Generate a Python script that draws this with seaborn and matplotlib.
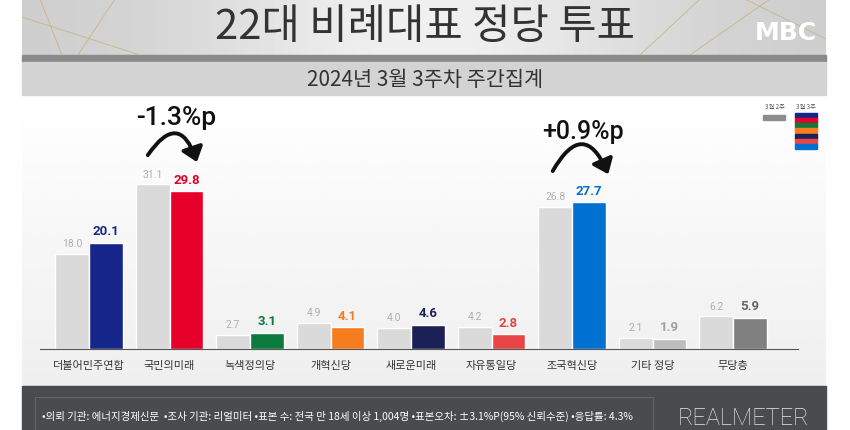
import numpy as np
import pandas as pd
import matplotlib
matplotlib.use("Agg")
import matplotlib.pyplot as plt
from matplotlib.patches import Rectangle
import seaborn as sns

# data
parties = ["더불어민주연합", "국민의미래", "녹색정의당", "개혁신당", "새로운미래",
           "자유통일당", "조국혁신당", "기타 정당", "무당층"]
week2 = [18.0, 31.1, 2.7, 4.9, 4.0, 4.2, 26.8, 2.1, 6.2]
week3 = [20.1, 29.8, 3.1, 4.1, 4.6, 2.8, 27.7, 1.9, 5.9]
weeks = ["3월 2주", "3월 3주"]
bar_colors = ["#16258a", "#e6002a", "#0b7b3e", "#f57d20", "#1b2157",
              "#e84646", "#0071d1", "#bdbdbd", "#808080"]
label_colors = ["#1a2a80", "#e0002a", "#0b7b3e", "#f57d20", "#1b2157",
                "#e04545", "#0a6fc8", "#a0a0a0", "#666666"]
prev_color = "#dadada"

df = pd.DataFrame({
    "party": parties * 2,
    "week": [weeks[0]] * len(parties) + [weeks[1]] * len(parties),
    "value": week2 + week3,
})

sns.set_theme(style="white")
plt.rcParams["font.family"] = ["Noto Sans CJK KR", "DejaVu Sans"]

W, H = 850, 431
fig = plt.figure(figsize=(W / 100, H / 100), dpi=100)
fig.patch.set_facecolor("white")

# background / frame drawn in pixel coordinates
bg = fig.add_axes([0, 0, 1, 1])
bg.axis("off")

# title banner gradient
xs = np.linspace(0, 1, 200)
row = 0.80 + 0.14 * np.exp(-((xs - 0.5) / 0.3) ** 2)
bg.imshow(np.tile(row, (10, 1)), cmap="gray", vmin=0, vmax=1, aspect="auto",
          extent=(22, 826, 56, 0))
for x0, y0, x1, y1 in [(40, 0, 62, 56), (22, 18, 140, 56), (115, 0, 78, 56),
                       (690, 56, 770, 0), (745, 0, 826, 40), (640, 56, 700, 0)]:
    bg.plot([x0, x1], [y0, y1], color="#c9b37e", lw=0.7, alpha=0.8)
bg.add_patch(Rectangle((22, 56), 804, 7, color="#8a8a8a"))
bg.add_patch(Rectangle((22, 63), 804, 33, color="#d3d3d3"))

# chart area gradient
col = np.linspace(1.0, 0.935, 100)[:, None]
bg.imshow(np.tile(col, (1, 10)), cmap="gray", vmin=0, vmax=1, aspect="auto",
          extent=(22, 826, 387, 96))

# footer
bg.add_patch(Rectangle((22, 387), 804, 44, color="#4a4b4d"))
bg.add_patch(Rectangle((35, 398), 618, 40, fill=False, ec="#626365", lw=0.8))
bg.set_xlim(0, W)
bg.set_ylim(H, 0)

bg.text(425, 27, "22대 비례대표 정당 투표", ha="center", va="center",
        fontsize=30, color="#333333")
bg.text(786, 33, "MBC", ha="center", va="center", fontsize=18,
        fontweight="bold", color="white", family="DejaVu Sans")
bg.text(425, 80, "2024년 3월 3주차 주간집계", ha="center", va="center",
        fontsize=15, color="#333333")
bg.text(42, 416, "•의뢰 기관: 에너지경제신문  •조사 기관: 리얼미터 •표본 수: 전국 만 18세 이상 1,004명 "
        "•표본오차: ±3.1%P(95% 신뢰수준) •응답률: 4.3%",
        ha="left", va="center", fontsize=7.5, color="white")
bg.text(744, 418, "REALMETER", ha="center", va="center", fontsize=17,
        color="#e6e6e6", family="Roboto", fontweight="light")

# legend (top right)
bg.text(775, 107, weeks[0], ha="center", va="center", fontsize=4.5, color="#555555")
bg.text(806, 107, weeks[1], ha="center", va="center", fontsize=4.5, color="#555555")
bg.add_patch(Rectangle((763, 116), 22, 5, color="#8c8c8c"))
for i, c in enumerate(bar_colors[:7]):
    bg.add_patch(Rectangle((795, 114 + i * 5.15), 22, 5.15, color=c))

# main bar chart
ax = fig.add_axes([40 / W, (H - 350) / H, 758 / W, 250 / H])
ax.patch.set_alpha(0)
sns.barplot(data=df, x="party", y="value", hue="week", hue_order=weeks,
            palette={weeks[0]: prev_color, weeks[1]: "#000000"},
            width=0.84, gap=0, legend=False, ax=ax, saturation=1)
for patch, c in zip(ax.containers[1], bar_colors):
    patch.set_facecolor(c)

prev_txt = ax.bar_label(ax.containers[0], labels=[f"{v:.1f}" for v in week2],
                        padding=4, fontsize=7.5, color="#b0b0b0", family="Roboto")
cur_txt = ax.bar_label(ax.containers[1], labels=[f"{v:.1f}" for v in week3],
                       padding=4, fontsize=9.5, fontweight="bold", family="Roboto")
for t, c in zip(cur_txt, label_colors):
    t.set_color(c)

ax.set_xlim(-0.609, 8.807)
ax.set_ylim(0, 47.2)
ax.set_xlabel("")
ax.set_ylabel("")
ax.set_yticks([])
ax.tick_params(axis="x", length=0, pad=8, labelsize=8, labelcolor="#333333")
for lbl in ax.get_xticklabels():
    lbl.set_fontweight("medium")
for s in ["top", "right", "left"]:
    ax.spines[s].set_visible(False)
ax.spines["bottom"].set_color("#555555")
ax.spines["bottom"].set_linewidth(0.8)

# change annotations
arrow = dict(arrowstyle="-|>,head_width=0.55,head_length=0.7",
             connectionstyle="arc3,rad=-1.0", lw=2.8, color="#111111",
             shrinkA=0, shrinkB=0)
ax.annotate("", xy=(1.34, 35.3), xytext=(0.73, 36.6), arrowprops=arrow)
ax.text(1.08, 43.8, "-1.3%p", ha="center", va="center", fontsize=19,
        color="#111111", family="Roboto", fontweight="medium")
ax.annotate("", xy=(6.45, 33.0), xytext=(5.76, 33.6), arrowprops=arrow)
ax.text(6.14, 41.1, "+0.9%p", ha="center", va="center", fontsize=18,
        color="#111111", family="Roboto", fontweight="medium")

fig.savefig("out.png", dpi=100)
